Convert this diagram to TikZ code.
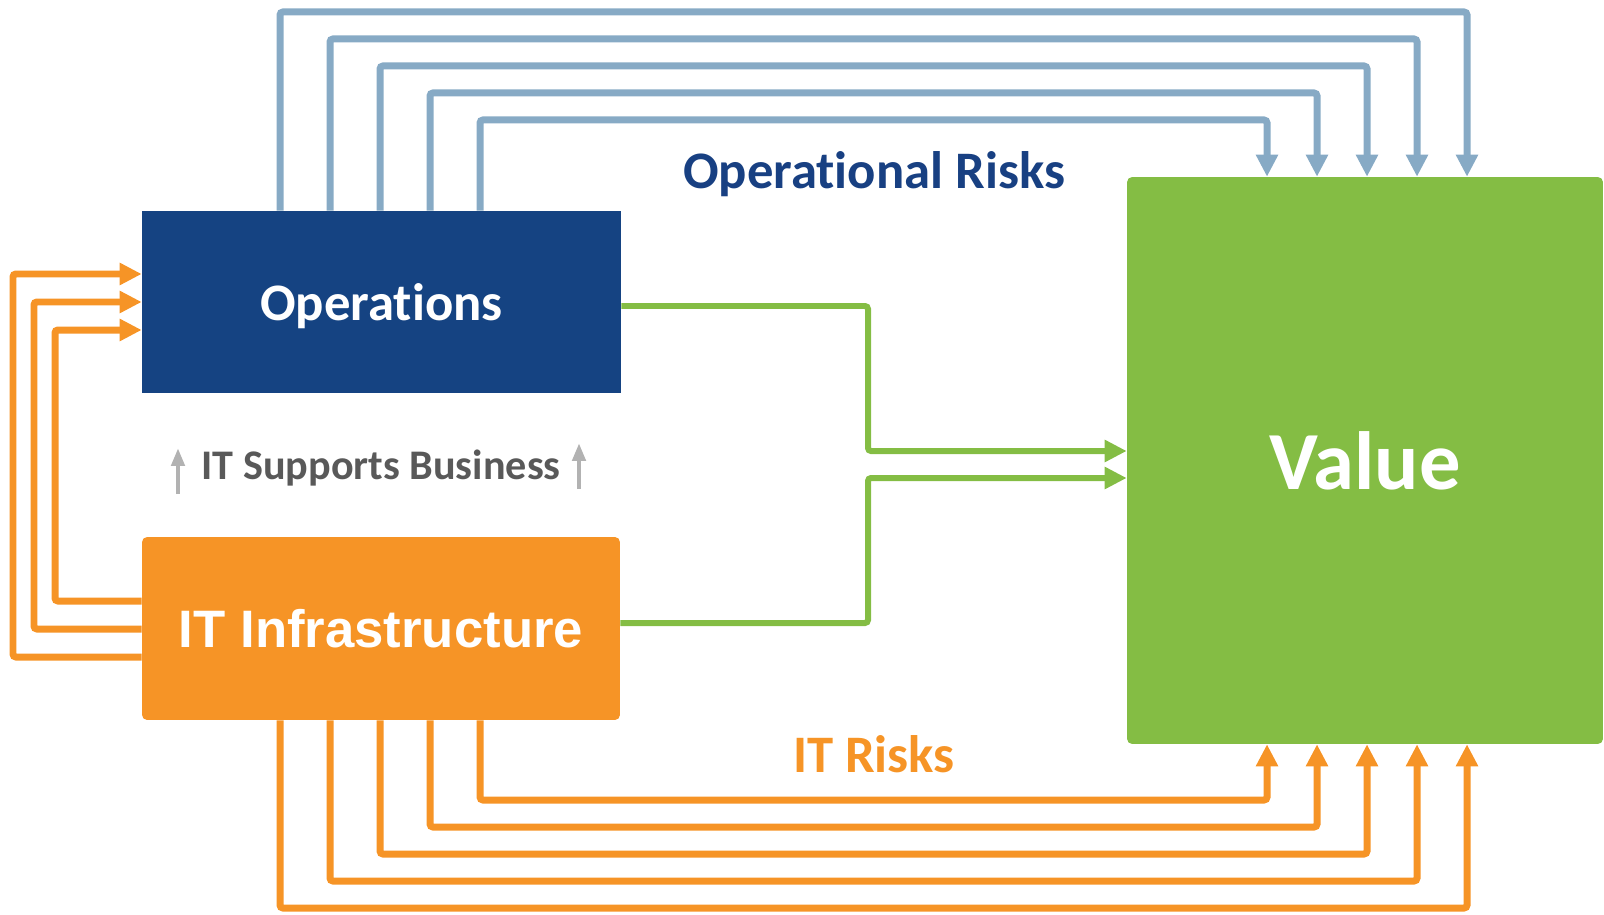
\documentclass[tikz,border=0pt]{standalone}
\usepackage{fontspec}
\setmainfont{Carlito}[Ligatures=NoCommon]
\newfontfamily\arialfont{Liberation Sans}
\usetikzlibrary{arrows.meta}
\definecolor{opsblue}{RGB}{21,67,130}
\definecolor{itorange}{RGB}{246,148,38}
\definecolor{valgreen}{RGB}{132,189,68}
\definecolor{riskblue}{RGB}{135,170,197}
\definecolor{txtblue}{RGB}{24,64,130}
\definecolor{txtgray}{RGB}{89,89,89}
\definecolor{arrgray}{RGB}{178,178,178}
\tikzset{ blk/.style = { rectangle % block
        , inner sep = 0pt
        , text = white
        , font = \bfseries\fontsize{30}{36}\selectfont
        }
      , lnk/.style = { line width = 0.14cm % link
        , rounded corners = 0.06cm
        , -{Triangle[width=0.42cm, length=0.44cm]}
        }
      , ttl/.style = { font = \bfseries\fontsize{30}{36}\selectfont % title
        }
      , sup/.style = { line width = 0.09cm % support arrow
        , draw = arrgray
        , -{Triangle[width=0.26cm, length=0.36cm]}
        }
      }

\begin{document}
\begin{tikzpicture}[x=0.02cm, y=-0.02cm]
  \useasboundingbox (0,0) rectangle (1604,915);
  \node[blk, fill=opsblue, minimum width=9.58cm, minimum height=3.64cm, text depth=0pt] (ops) at (381.5,302) {Operations};
  \node[blk, fill=itorange, rounded corners=0.1cm, minimum width=9.56cm, minimum height=3.66cm, font=\arialfont\bfseries\fontsize{30}{36}\selectfont] (it) at (381,628.5) {IT Infrastructure};
  \node[blk, fill=valgreen, rounded corners=0.1cm, minimum width=9.52cm, minimum height=11.34cm, font=\bfseries\fontsize{47}{56}\selectfont] (value) at (1365,460.5) {Value};

  \node[ttl, text=txtblue] (oprisk) at (874,174) {Operational Risks};
  \node[ttl, text=itorange] (itrisk) at (874,754) {IT Risks};
  \node[font=\bfseries\fontsize{24}{29}\selectfont, text=txtgray] (isb) at (381,468) {IT Supports Business};
  \coordinate (s1) at (178,494); \coordinate (s2) at (178,448);
  \coordinate (s3) at (579,489); \coordinate (s4) at (579,443);
  \draw[sup] (s1) -- (s2);
  \draw[sup] (s3) -- (s4);

  \foreach \i in {0,...,4}{
    \pgfmathtruncatemacro{\sx}{480-50*\i}
    \pgfmathtruncatemacro{\ex}{1267+50*\i}
    \pgfmathtruncatemacro{\ty}{120-27*\i}
    \pgfmathtruncatemacro{\by}{800+27*\i}
    \coordinate (ta) at (\sx,\ty); \coordinate (tb) at (\ex,\ty);
    \coordinate (ba) at (\sx,\by); \coordinate (bb) at (\ex,\by);
    \draw[lnk, riskblue] (ta |- ops.north) -- (ta) -- (tb) -- (tb |- value.north);
    \draw[lnk, itorange] (ba |- it.south) -- (ba) -- (bb) -- (bb |- value.south);
  }
  \foreach \i in {0,1,2}{
    \pgfmathtruncatemacro{\lx}{55-21*\i}
    \pgfmathtruncatemacro{\ly}{330-28*\i}
    \pgfmathtruncatemacro{\my}{601+28*\i}
    \coordinate (la) at (\lx,\ly); \coordinate (lb) at (\lx,\my);
    \draw[lnk, itorange] (it.west |- lb) -- (lb) -- (la) -- (ops.west |- la);
  }

  \coordinate (ga) at (868,306); \coordinate (gb) at (868,451);
  \coordinate (gc) at (868,623); \coordinate (gd) at (868,478);
  \draw[lnk, valgreen, line width=0.12cm] (ops.east |- ga) -- (ga) -- (gb) -- (value.west |- gb);
  \draw[lnk, valgreen, line width=0.12cm] (it.east |- gc) -- (gc) -- (gd) -- (value.west |- gd);
\end{tikzpicture}
\end{document}
